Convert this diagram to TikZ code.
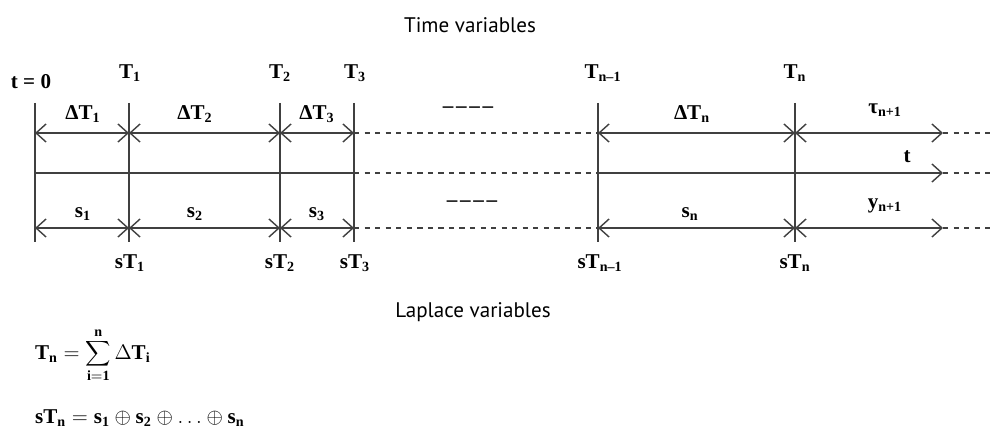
\documentclass[tikz,border=0pt]{standalone}
\usepackage{fontspec}
\setmainfont{Liberation Serif}
\newfontfamily\capfont{PT Sans}
\usetikzlibrary{arrows.meta}
\tikzset{
  lab/.style={font=\fontsize{12}{14}\selectfont\bfseries, inner sep=1pt},
  heading/.style={font=\capfont\fontsize{12}{14}\selectfont},
  tick/.style={black!75, thick},
  dim/.style={black!75, thick, {Straight Barb[length=2mm,width=3.6mm]}-{Straight Barb[length=2mm,width=3.6mm]}},
  gap/.style={black!75, thick, dashed}
}
\newcommand{\sumrel}{\ensuremath{\displaystyle\mathbf{T}_{\mathbf{n}}=\sum\limits_{\mathbf{i}\mathbf{=}\mathbf{1}}^{\mathbf{n}}\Delta\mathbf{T}_{\mathbf{i}}}}
\newcommand{\oplusrel}{\ensuremath{\mathbf{sT}_{\mathbf{n}}=\mathbf{s}_{\mathbf{1}}\oplus\mathbf{s}_{\mathbf{2}}\oplus\ldots\oplus\mathbf{s}_{\mathbf{n}}}}
\newcommand{\skipmark}{–\hspace{1.5pt}–\hspace{1.5pt}–\hspace{1.5pt}–}

\begin{document}
\begin{tikzpicture}[x=0.02cm, y=-0.02cm]
  \useasboundingbox (0,0) rectangle (993,432);
  % Rows and ticks
  \foreach \n/\x in {0/35, 1/129, 2/280, 3/354, m/598, n/795, e/943, z/993} {
    \coordinate (u\n) at (\x,103);
    \coordinate (a\n) at (\x,133);
    \coordinate (m\n) at (\x,173);
    \coordinate (b\n) at (\x,228);
    \coordinate (d\n) at (\x,242);
  }
  \foreach \n in {0,1,2,3,m,n}
    \draw[tick] (u\n) -- (d\n);
  \foreach \p/\q in {0/1, 1/2, 2/3, m/n, n/e} {
    \draw[dim] (a\p) -- (a\q);
    \draw[dim] (b\p) -- (b\q);
  }
  \draw[tick] (m0) -- (m3);
  \draw[tick, -{Straight Barb[length=2mm,width=3.6mm]}] (mm) -- (me);
  \foreach \row in {a,m,b} {
    \draw[gap] (\row3) -- (\row m);
    \draw[gap] (\row e) -- (\row z);
  }

  % Time side
  \node[heading] (time) at (470,25) {Time variables};
  \node[lab] (t0) at (31,82) {t = 0};
  \node[lab] (T1) at (130,73) {T\textsubscript{1}};
  \node[lab] (T2) at (280,73) {T\textsubscript{2}};
  \node[lab] (T3) at (355,73) {T\textsubscript{3}};
  \node[lab] (Tm) at (603,73) {T\textsubscript{n–1}};
  \node[lab] (Tn) at (795,73) {T\textsubscript{n}};
  \node[lab] (dT1) at (83,114) {ΔT\textsubscript{1}};
  \node[lab] (dT2) at (195,114) {ΔT\textsubscript{2}};
  \node[lab] (dT3) at (317,114) {ΔT\textsubscript{3}};
  \node[lab] (dTd) at (468,110) {\skipmark};
  \node[lab] (dTn) at (692,114) {ΔT\textsubscript{n}};
  \node[lab] (tau) at (885,110) {τ\textsubscript{n+1}};
  \node[lab] (tvar) at (907,157) {t};

  % Laplace side
  \node[lab] (s1) at (83,214) {s\textsubscript{1}};
  \node[lab] (s2) at (195,214) {s\textsubscript{2}};
  \node[lab] (s3) at (317,214) {s\textsubscript{3}};
  \node[lab] (sd) at (472,204) {\skipmark};
  \node[lab] (sn) at (690,214) {s\textsubscript{n}};
  \node[lab] (yvar) at (885,206) {y\textsubscript{n+1}};
  \node[lab] (sT1) at (130,263) {sT\textsubscript{1}};
  \node[lab] (sT2) at (280,263) {sT\textsubscript{2}};
  \node[lab] (sT3) at (355,263) {sT\textsubscript{3}};
  \node[lab] (sTm) at (600,263) {sT\textsubscript{n–1}};
  \node[lab] (sTn) at (795,263) {sT\textsubscript{n}};
  \node[heading] (lap) at (473,312) {Laplace variables};

  % Relations
  \node[lab, anchor=west] (rel1) at (33,355) {\sumrel};
  \node[lab, anchor=west] (rel2) at (33,418) {\oplusrel};
\end{tikzpicture}
\end{document}
